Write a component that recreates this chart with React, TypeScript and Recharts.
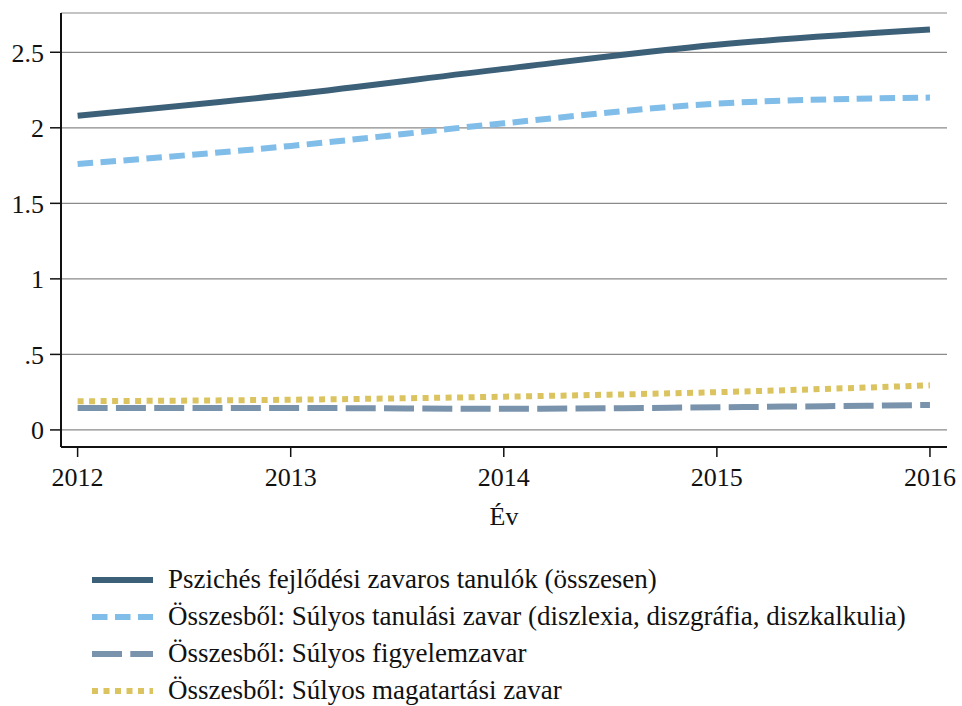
import { LineChart, Line, XAxis, YAxis, CartesianGrid } from "recharts";

// ── Data ────────────────────────────────────────────────────────────────────

const years = [2012, 2013, 2014, 2015, 2016];
const totalValues = [2.08, 2.22, 2.39, 2.55, 2.65];
const learningValues = [1.76, 1.88, 2.03, 2.16, 2.2];
const attentionValues = [0.145, 0.145, 0.14, 0.15, 0.165];
const behaviourValues = [0.19, 0.2, 0.22, 0.25, 0.295];

const yTicks = [0, 0.5, 1, 1.5, 2, 2.5];
const yTickLabels = ["0", ".5", "1", "1.5", "2", "2.5"];

const seriesNames = [
  "Pszichés fejlődési zavaros tanulók (összesen)",
  "Összesből: Súlyos tanulási zavar (diszlexia, diszgráfia, diszkalkulia)",
  "Összesből: Súlyos figyelemzavar",
  "Összesből: Súlyos magatartási zavar",
];

const xDomain = [2011.922, 2016.08];
const yDomain = [-0.113, 2.76];

// ── Styles ──────────────────────────────────────────────────────────────────

const FONT = '"Liberation Serif", "DejaVu Serif", serif';
const FONT_SIZE = 26;

const series = [
  { key: "total", color: "#3d6079", dash: undefined },
  { key: "learning", color: "#80bde8", dash: "15.5 7.5" },
  { key: "attention", color: "#7a93ac", dash: "30 8.3" },
  { key: "behaviour", color: "#dbc35f", dash: "6 5.5" },
];

const chartData = years.map((year, i) => ({
  year,
  total: totalValues[i],
  learning: learningValues[i],
  attention: attentionValues[i],
  behaviour: behaviourValues[i],
}));

const tickStyle = { fontFamily: FONT, fontSize: FONT_SIZE, fill: "#111" };

function formatY(v: number) {
  const idx = yTicks.indexOf(v);
  return idx >= 0 ? yTickLabels[idx] : String(v);
}

// ── Legend ──────────────────────────────────────────────────────────────────

function LegendBlock() {
  return (
    <div style={{ position: "absolute", left: 92, top: 561, fontFamily: FONT, fontSize: 27, color: "#111" }}>
      {series.map((s, i) => (
        <div key={s.key} style={{ display: "flex", alignItems: "center", height: 37 }}>
          <svg width={61} height={8} style={{ marginRight: 15 }}>
            <line x1={0} y1={4} x2={61} y2={4} stroke={s.color} strokeWidth={6} strokeDasharray={s.dash} />
          </svg>
          <span style={{ whiteSpace: "nowrap" }}>{seriesNames[i]}</span>
        </div>
      ))}
    </div>
  );
}

// ── App ─────────────────────────────────────────────────────────────────────

export default function App() {
  return (
    <div style={{ position: "absolute", left: 0, top: 0, width: 962, height: 706, background: "#fff" }}>
      <LineChart width={962} height={545} data={chartData} margin={{ top: 13, right: 15, bottom: 0, left: 0 }}>
        <CartesianGrid vertical={false} stroke="#8a8a8a" strokeWidth={1.2} />
        <XAxis
          dataKey="year"
          type="number"
          domain={xDomain}
          ticks={years}
          allowDataOverflow
          height={98}
          tickSize={10}
          tickMargin={11}
          tick={tickStyle}
          tickLine={{ stroke: "#111", strokeWidth: 1.5 }}
          axisLine={{ stroke: "#111", strokeWidth: 2 }}
          label={{ value: "Év", position: "insideBottom", offset: 20, style: { ...tickStyle } }}
        />
        <XAxis xAxisId="top" orientation="top" type="number" domain={xDomain} allowDataOverflow height={0} tick={false} tickLine={false} axisLine={{ stroke: "#555", strokeWidth: 2 }} />
        <YAxis
          type="number"
          domain={yDomain}
          ticks={yTicks}
          allowDataOverflow
          width={61}
          tickSize={11}
          tickMargin={6}
          tick={tickStyle}
          tickFormatter={formatY}
          tickLine={{ stroke: "#111", strokeWidth: 1.5 }}
          axisLine={{ stroke: "#111", strokeWidth: 2 }}
        />
        <YAxis yAxisId="right" orientation="right" type="number" domain={yDomain} allowDataOverflow width={0} tick={false} tickLine={false} axisLine={{ stroke: "#555", strokeWidth: 2 }} />
        {series.map((s) => (
          <Line
            key={s.key}
            type="monotone"
            dataKey={s.key}
            stroke={s.color}
            strokeWidth={6}
            strokeDasharray={s.dash}
            strokeLinecap="butt"
            dot={false}
            activeDot={false}
            isAnimationActive={false}
          />
        ))}
      </LineChart>
      <LegendBlock />
    </div>
  );
}
